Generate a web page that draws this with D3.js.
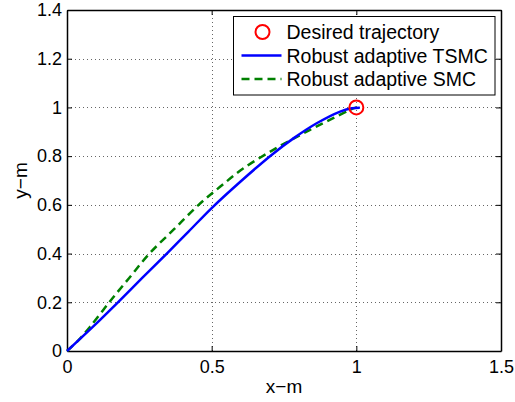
<!DOCTYPE html>
<html>
<head>
<meta charset="UTF-8">
<title>trajectory</title>
<script src="https://d3js.org/d3.v7.min.js"></script>
<style>
  body { margin: 0; background: #fff; }
  text { font-family: "Liberation Sans", Arial, sans-serif; fill: #000; }
</style>
</head>
<body>
<svg></svg>
<script>
  // ticks
  const xTicks = [0, 0.5, 1, 1.5]
  const yTicks = [0, 0.2, 0.4, 0.6, 0.8, 1, 1.2, 1.4]

  // desired point
  const desired = [{ x: 1, y: 1 }]

  // Robust adaptive TSMC
  const tsmcX = [0, 0.09, 0.176, 0.26, 0.345, 0.42, 0.5, 0.6, 0.707, 0.785, 0.863, 0.944, 0.985, 1.012]
  const tsmcY = [0, 0.1, 0.2, 0.3, 0.4, 0.49, 0.587, 0.696, 0.805, 0.875, 0.935, 0.983, 0.997, 0.999]

  // Robust adaptive SMC
  const smcX = [0, 0.04, 0.08, 0.146, 0.215, 0.285, 0.37, 0.455, 0.53, 0.61, 0.713, 0.84, 0.92, 0.978, 1.0]
  const smcY = [0, 0.045, 0.1, 0.2, 0.3, 0.4, 0.5, 0.6, 0.675, 0.75, 0.826, 0.908, 0.956, 0.99, 1.0]

  const legendLabels = ['Desired trajectory', 'Robust adaptive TSMC', 'Robust adaptive SMC']

  const width = 515, height = 402
  const m = { left: 67, top: 10, right: 14, bottom: 51 }
  const W = width - m.left - m.right
  const H = height - m.top - m.bottom

  const svg = d3.select('svg').attr('width', width).attr('height', height)
  const g = svg.append('g').attr('transform', `translate(${m.left},${m.top})`)

  const x = d3.scaleLinear().domain([0, 1.5]).range([0, W])
  const y = d3.scaleLinear().domain([0, 1.4]).range([H, 0])

  // dotted grid
  const grid = g.append('g')
    .attr('stroke', '#666').attr('stroke-width', 1).attr('stroke-dasharray', '1,3')
  grid.selectAll('.gx').data(xTicks.slice(1, -1)).join('line')
    .attr('class', 'gx')
    .attr('x1', d => Math.round(x(d)) + 0.5).attr('x2', d => Math.round(x(d)) + 0.5)
    .attr('y1', 0).attr('y2', H)
  grid.selectAll('.gy').data(yTicks.slice(1, -1)).join('line')
    .attr('class', 'gy')
    .attr('y1', d => Math.round(y(d)) + 0.5).attr('y2', d => Math.round(y(d)) + 0.5)
    .attr('x1', 0).attr('x2', W)

  // axes, ticks pointing inward like matlab
  const fs = 18
  const axB = g.append('g').attr('transform', `translate(0,${H})`)
    .call(d3.axisBottom(x).tickValues(xTicks).tickSizeInner(-5).tickSizeOuter(0).tickPadding(9)
      .tickFormat(d3.format('')))
  const axL = g.append('g')
    .call(d3.axisLeft(y).tickValues(yTicks).tickSizeInner(-5).tickSizeOuter(0).tickPadding(5)
      .tickFormat(d3.format('')))
  const axT = g.append('g')
    .call(d3.axisTop(x).tickValues(xTicks).tickSizeInner(-5).tickSizeOuter(0).tickFormat(''))
  const axR = g.append('g').attr('transform', `translate(${W},0)`)
    .call(d3.axisRight(y).tickValues(yTicks).tickSizeInner(-5).tickSizeOuter(0).tickFormat(''))

  ;[axB, axL, axT, axR].forEach(a => {
    a.select('.domain').attr('stroke', '#000').attr('stroke-width', 1.5)
    a.selectAll('.tick line').attr('stroke', '#000')
    a.selectAll('text').style('font-size', fs + 'px').attr('font-family', null)
  })

  // data lines
  const tsmc = tsmcX.map((v, i) => [v, tsmcY[i]])
  const smc = smcX.map((v, i) => [v, smcY[i]])
  const path = d3.line().x(d => x(d[0])).y(d => y(d[1])).curve(d3.curveCatmullRom)

  g.append('path').datum(smc).attr('d', path)
    .attr('fill', 'none').attr('stroke', '#008000').attr('stroke-width', 2.5)
    .attr('stroke-dasharray', '8,5')
  g.append('path').datum(tsmc).attr('d', path)
    .attr('fill', 'none').attr('stroke', '#0000ff').attr('stroke-width', 2.5)

  g.selectAll('.des').data(desired).join('circle')
    .attr('cx', d => x(d.x)).attr('cy', d => y(d.y)).attr('r', 7)
    .attr('fill', 'none').attr('stroke', '#ff0000').attr('stroke-width', 2)

  // axis labels
  svg.append('text').attr('x', m.left + W / 2).attr('y', 393)
    .attr('text-anchor', 'middle').style('font-size', '19px').text('x\u2212m')
  svg.append('text').attr('transform', `translate(27,${m.top + H / 2}) rotate(-90)`)
    .attr('text-anchor', 'middle').style('font-size', '19px').text('y\u2212m')

  // legend
  const lg = svg.append('g').attr('transform', 'translate(233.5,16.5)')
  lg.append('rect').attr('width', 261.5).attr('height', 78.5)
    .attr('fill', '#fff').attr('stroke', '#000').attr('stroke-width', 1)
  const rows = [15.5, 39, 62.5]
  lg.append('circle').attr('cx', 29).attr('cy', rows[0]).attr('r', 7)
    .attr('fill', 'none').attr('stroke', '#ff0000').attr('stroke-width', 2)
  lg.append('line').attr('x1', 8).attr('x2', 48).attr('y1', rows[1]).attr('y2', rows[1])
    .attr('stroke', '#0000ff').attr('stroke-width', 2.5)
  lg.append('line').attr('x1', 8).attr('x2', 48).attr('y1', rows[2]).attr('y2', rows[2])
    .attr('stroke', '#008000').attr('stroke-width', 2.5).attr('stroke-dasharray', '8,5')
  lg.selectAll('.lt').data(legendLabels).join('text')
    .attr('class', 'lt')
    .attr('x', 53).attr('y', (d, i) => rows[i] + 7)
    .style('font-size', '19.5px').text(d => d)
</script>
</body>
</html>
